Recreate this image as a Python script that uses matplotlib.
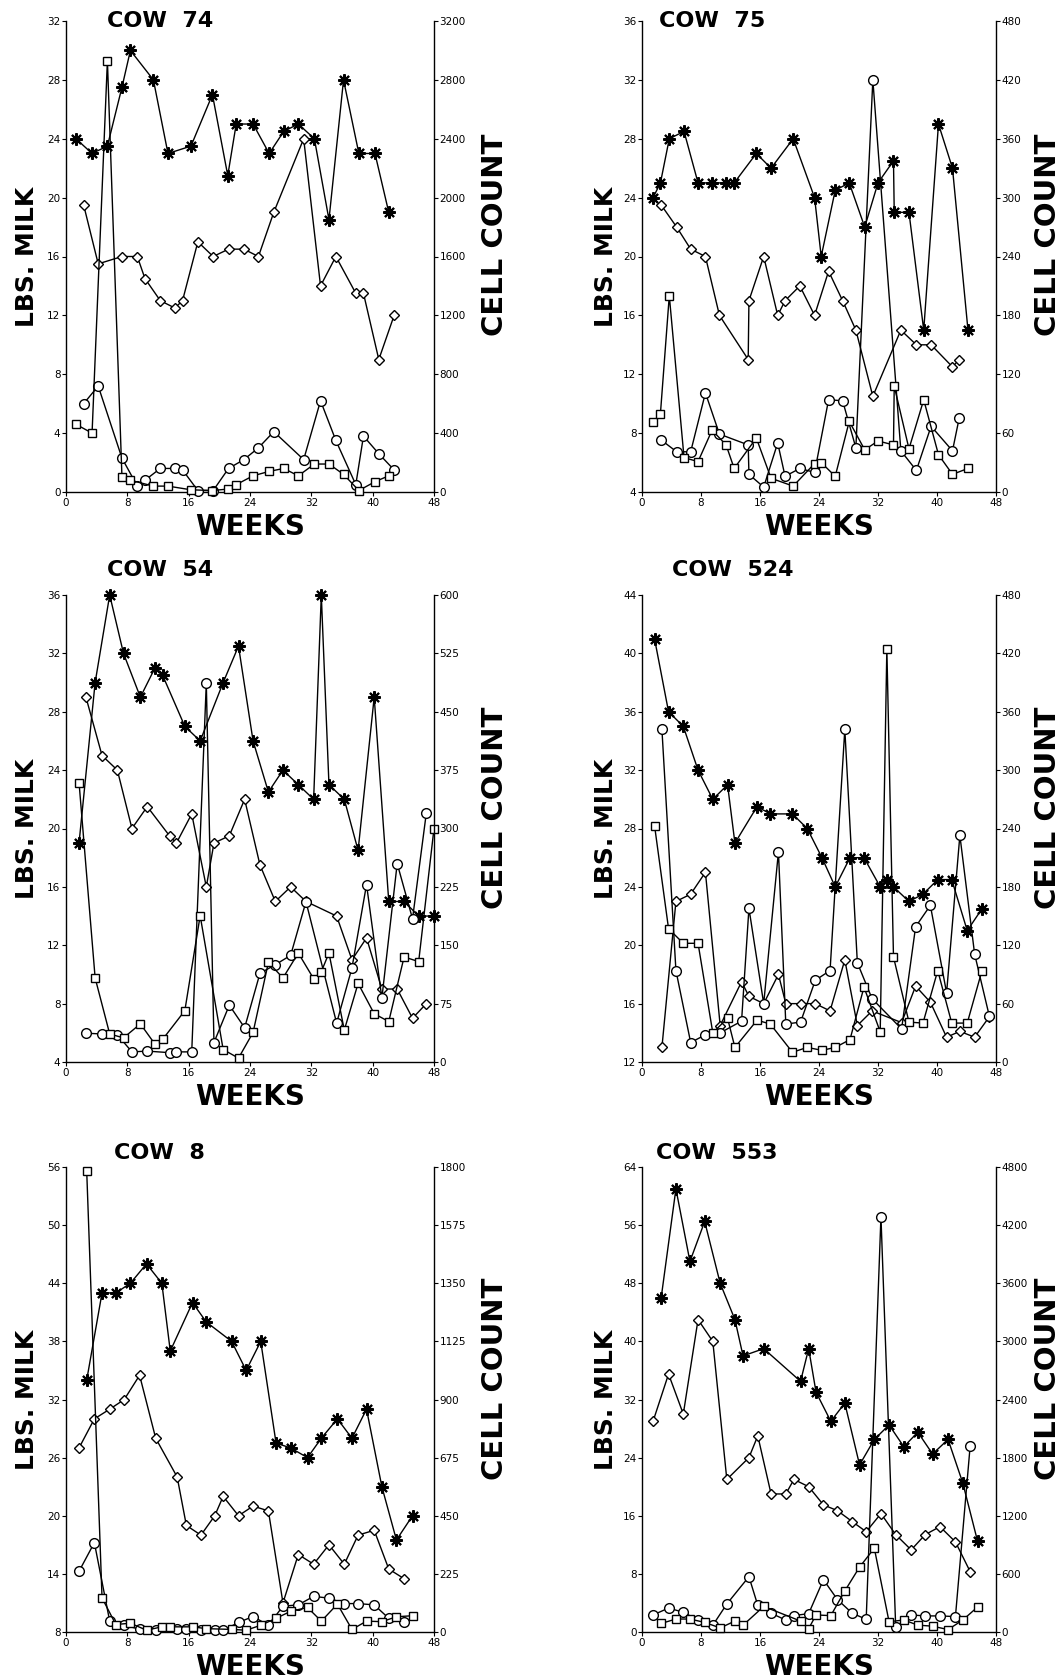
import matplotlib
matplotlib.use("Agg")
import matplotlib.pyplot as plt

# ---- data: stars/squares share weeks A, diamonds/circles share weeks B ----
# milk (lbs) for stars and diamonds, cell count for squares and circles

cow74_wk_a = [1.3, 3.4, 5.4, 7.3, 8.4, 11.4, 13.3, 16.3, 19.1, 21.1, 22.2, 24.4, 26.5, 28.4, 30.3, 32.4, 34.3, 36.2, 38.2, 40.3, 42.1]
cow74_star = [24, 23, 23.5, 27.5, 30, 28, 23, 23.5, 27, 21.5, 25, 25, 23, 24.5, 25, 24, 18.5, 28, 23, 23, 19]
cow74_square = [460, 400, 2930, 100, 80, 40, 40, 15, 10, 20, 50, 110, 140, 160, 110, 190, 190, 120, 10, 70, 110]
cow74_wk_b = [2.3, 4.2, 7.3, 9.3, 10.3, 12.3, 14.2, 15.2, 17.2, 19.2, 21.2, 23.2, 25.1, 27.1, 31.0, 33.2, 35.2, 37.8, 38.8, 40.8, 42.8]
cow74_diamond = [19.5, 15.5, 16, 16, 14.5, 13, 12.5, 13, 17, 16, 16.5, 16.5, 16, 19, 24, 14, 16, 13.5, 13.5, 9, 12]
cow74_circle = [600, 720, 230, 40, 80, 160, 160, 150, 10, 10, 160, 220, 300, 410, 220, 620, 350, 50, 380, 260, 150]

cow75_wk_a = [1.5, 2.5, 3.7, 5.7, 7.6, 9.5, 11.4, 12.5, 15.5, 17.5, 20.5, 23.4, 24.3, 26.2, 28.1, 30.2, 32.0, 34.1, 34.2, 36.2, 38.2, 40.2, 42.1, 44.2]
cow75_star = [24, 25, 28, 28.5, 25, 25, 25, 25, 27, 26, 28, 24, 20, 24.5, 25, 22, 25, 26.5, 23, 23, 15, 29, 26, 15]
cow75_square = [71, 80, 200, 35, 31, 63, 48, 24, 55, 14, 6, 29, 30, 16, 72, 43, 52, 48, 108, 44, 94, 38, 18, 24]
cow75_wk_b = [2.6, 4.7, 6.6, 8.6, 10.5, 14.4, 14.5, 16.5, 18.4, 19.4, 21.4, 23.4, 25.3, 27.2, 29.0, 31.3, 35.1, 37.2, 39.2, 42.1, 43.0]
cow75_diamond = [23.5, 22, 20.5, 20, 16, 13, 17, 20, 16, 17, 18, 16, 19, 17, 15, 10.5, 15, 14, 14, 12.5, 13]
cow75_circle = [53, 41, 41, 101, 59, 48, 18, 5, 50, 16, 24, 20, 94, 93, 45, 420, 42, 22, 67, 42, 75]

cow54_wk_a = [1.7, 3.8, 5.7, 7.5, 9.7, 11.6, 12.6, 15.5, 17.5, 20.5, 22.5, 24.4, 26.4, 28.3, 30.3, 32.3, 33.3, 34.3, 36.3, 38.1, 40.2, 42.1, 44.1, 46.0, 48.0]
cow54_star = [19, 30, 36, 32, 29, 31, 30.5, 27, 26, 30, 32.5, 26, 22.5, 24, 23, 22, 36, 23, 22, 18.5, 29, 15, 15, 14, 14]
cow54_square = [359, 108, 36, 31, 49, 23, 29, 66, 188, 16, 5, 38, 128, 108, 140, 107, 116, 140, 41, 101, 62, 52, 135, 129, 300]
cow54_wk_b = [2.6, 4.7, 6.7, 8.6, 10.6, 13.5, 14.4, 16.4, 18.3, 19.3, 21.3, 23.3, 25.3, 27.3, 29.3, 31.3, 35.3, 37.3, 39.2, 41.2, 43.2, 45.2, 47.0]
cow54_diamond = [29, 25, 24, 20, 21.5, 19.5, 19, 21, 16, 19, 19.5, 22, 17.5, 15, 16, 15, 14, 11, 12.5, 9, 9, 7, 8]
cow54_circle = [37, 36, 35, 13, 14, 12, 13, 13, 487, 25, 73, 44, 114, 125, 137, 206, 50, 121, 228, 82, 255, 184, 320]

cow524_wk_a = [1.7, 3.6, 5.6, 7.6, 9.6, 11.6, 12.6, 15.6, 17.4, 20.4, 22.4, 24.4, 26.2, 28.2, 30.1, 32.3, 33.2, 34.1, 36.2, 38.1, 40.1, 42.0, 44.1, 46.1]
cow524_star = [41, 36, 35, 32, 30, 31, 27, 29.5, 29, 29, 28, 26, 24, 26, 26, 24, 24.5, 24, 23, 23.5, 24.5, 24.5, 21, 22.5]
cow524_square = [243, 137, 122, 122, 30, 45, 15, 43, 39, 10, 15, 12, 15, 23, 77, 31, 425, 108, 41, 40, 94, 40, 40, 94]
cow524_wk_b = [2.7, 4.6, 6.6, 8.6, 10.6, 13.5, 14.5, 16.5, 18.5, 19.5, 21.5, 23.5, 25.5, 27.5, 29.2, 31.2, 35.2, 37.1, 39.1, 41.3, 43.1, 45.1, 47.1]
cow524_diamond = [13, 23, 23.5, 25, 14.5, 17.5, 16.5, 16, 18, 16, 16, 16, 15.5, 19, 14.5, 15.5, 14.7, 17.2, 16.1, 13.7, 14.1, 13.7, 15.1]
cow524_circle = [342, 94, 20, 28, 30, 42, 158, 60, 216, 39, 41, 84, 94, 342, 102, 65, 34, 139, 161, 71, 233, 111, 47]

cow8_wk_a = [2.7, 4.7, 6.5, 8.4, 10.5, 12.5, 13.6, 16.5, 18.3, 21.6, 23.5, 25.4, 27.4, 29.3, 31.5, 33.3, 35.4, 37.3, 39.2, 41.2, 43.1, 45.2]
cow8_star = [34, 43, 43, 44, 46, 44, 37, 42, 40, 38, 35, 38, 27.5, 27, 26, 28, 30, 28, 31, 23, 17.5, 20]
cow8_square = [1785, 132, 29, 34, 7, 20, 20, 20, 13, 10, 7, 26, 53, 80, 95, 42, 108, 10, 42, 40, 59, 63]
cow8_wk_b = [1.7, 3.7, 5.7, 7.6, 9.6, 11.7, 14.5, 15.7, 17.6, 19.4, 20.5, 22.5, 24.4, 26.4, 28.3, 30.3, 32.3, 34.3, 36.3, 38.1, 40.2, 42.1, 44.1]
cow8_diamond = [27, 30, 31, 32, 34.5, 28, 24, 19, 18, 20, 22, 20, 21, 20.5, 11, 16, 15, 17, 15, 18, 18.5, 14.5, 13.5]
cow8_circle = [235, 346, 42, 26, 11, 7, 12, 10, 8, 7, 6, 37, 60, 26, 100, 105, 138, 131, 110, 110, 105, 53, 40]

cow553_wk_a = [2.6, 4.6, 6.5, 8.5, 10.6, 12.6, 13.7, 16.5, 21.5, 22.6, 23.6, 25.6, 27.5, 29.5, 31.5, 33.5, 35.5, 37.4, 39.4, 41.5, 43.5, 45.5]
cow553_star = [46, 61, 51, 56.5, 48, 43, 38, 39, 34.5, 39, 33, 29, 31.5, 23, 26.5, 28.5, 25.5, 27.5, 24.5, 26.5, 20.5, 12.5]
cow553_square = [88, 134, 134, 99, 42, 113, 70, 264, 113, 35, 176, 169, 424, 670, 865, 106, 124, 71, 60, 25, 124, 258]
cow553_wk_b = [1.5, 3.6, 5.6, 7.6, 9.6, 11.5, 14.5, 15.7, 17.5, 19.5, 20.6, 22.6, 24.6, 26.5, 28.5, 30.4, 32.4, 34.4, 36.5, 38.4, 40.4, 42.5, 44.5]
cow553_diamond = [29, 35.5, 30, 43, 40, 21, 24, 27, 19, 19, 21, 20, 17.5, 16.7, 15.2, 13.8, 16.3, 13.4, 11.3, 13.4, 14.5, 12.4, 8.3]
cow553_circle = [176, 247, 204, 123, 70, 289, 571, 275, 194, 123, 169, 190, 540, 335, 194, 131, 4288, 53, 176, 166, 166, 159, 1924]

# axis ranges and tick labels
milk_ticks = {
    "74": [0, 4, 8, 12, 16, 20, 24, 28, 32],
    "75": [4, 8, 12, 16, 20, 24, 28, 32, 36],
    "54": [4, 8, 12, 16, 20, 24, 28, 32, 36],
    "524": [12, 16, 20, 24, 28, 32, 36, 40, 44],
    "8": [8, 14, 20, 26, 32, 38, 44, 50, 56],
    "553": [0, 8, 16, 24, 32, 40, 48, 56, 64],
}
cell_ticks = {
    "74": [0, 400, 800, 1200, 1600, 2000, 2400, 2800, 3200],
    "75": [0, 60, 120, 180, 240, 300, 360, 420, 480],
    "54": [0, 75, 150, 225, 300, 375, 450, 525, 600],
    "524": [0, 60, 120, 180, 240, 300, 360, 420, 480],
    "8": [0, 225, 450, 675, 900, 1125, 1350, 1575, 1800],
    "553": [0, 600, 1200, 1800, 2400, 3000, 3600, 4200, 4800],
}
week_ticks = [0, 8, 16, 24, 32, 40, 48]

panels = [
    ("74", cow74_wk_a, cow74_star, cow74_square, cow74_wk_b, cow74_diamond, cow74_circle),
    ("75", cow75_wk_a, cow75_star, cow75_square, cow75_wk_b, cow75_diamond, cow75_circle),
    ("54", cow54_wk_a, cow54_star, cow54_square, cow54_wk_b, cow54_diamond, cow54_circle),
    ("524", cow524_wk_a, cow524_star, cow524_square, cow524_wk_b, cow524_diamond, cow524_circle),
    ("8", cow8_wk_a, cow8_star, cow8_square, cow8_wk_b, cow8_diamond, cow8_circle),
    ("553", cow553_wk_a, cow553_star, cow553_square, cow553_wk_b, cow553_diamond, cow553_circle),
]

# layout in pixels (figure is 1063 x 1679)
W, H = 1063, 1679
cols = [(66, 434), (642, 996)]
rows = [(21, 492), (595, 1062), (1167, 1632)]
title_pos = [(0.255, 1.0), (0.198, 1.0), (0.255, 1.054), (0.257, 1.054), (0.255, 1.03), (0.212, 1.03)]
milk_lab_x = [-39, -36]     # px from left spine
cell_lab_x = [61, 52]       # px from right spine

fig = plt.figure(figsize=(W / 100, H / 100), dpi=100)

for i, (name, wa, star, sq, wb, dia, circ) in enumerate(panels):
    x0, x1 = cols[i % 2]
    y0, y1 = rows[i // 2]
    ax = fig.add_axes([x0 / W, 1 - y1 / H, (x1 - x0) / W, (y1 - y0) / H])
    ax2 = ax.twinx()

    mt = milk_ticks[name]
    ct = cell_ticks[name]

    kw = dict(color="black", lw=1.0, clip_on=False)
    ax.plot(wa, star, marker=(8, 2, 0), ms=9, mew=1.5, **kw)
    ax.plot(wb, dia, marker="D", ms=5, mfc="white", mew=1.0, **kw)
    ax2.plot(wb, circ, marker="o", ms=7, mfc="white", mew=1.0, **kw)
    ax2.plot(wa, sq, marker="s", ms=6, mfc="white", mew=1.0, **kw)

    ax.set_xlim(0, 48)
    ax.set_xticks(week_ticks)
    ax.set_ylim(mt[0], mt[-1])
    ax.set_yticks(mt)
    ax2.set_ylim(ct[0], ct[-1])
    ax2.set_yticks(ct)

    for s in ["top", "right"]:
        ax.spines[s].set_visible(False)
    for s in ["top", "left", "bottom"]:
        ax2.spines[s].set_visible(False)
    for a in (ax, ax2):
        for s in a.spines.values():
            s.set_linewidth(1.0)
        a.tick_params(direction="out", length=3, width=0.8, labelsize=7.5, pad=1)

    wpx = x1 - x0
    hpx = y1 - y0
    ax.set_ylabel("LBS. MILK", fontsize=18, fontweight="bold", va="center", ha="center")
    ax2.set_ylabel("CELL COUNT", fontsize=21, fontweight="bold", va="center", ha="center",
                   rotation=90)
    ax.set_xlabel("WEEKS", fontsize=20, fontweight="bold", va="center", ha="center")
    ax.yaxis.set_label_coords(milk_lab_x[i % 2] / wpx, 0.5)
    ax2.yaxis.set_label_coords(1 + cell_lab_x[i % 2] / wpx, 0.545)
    ax.xaxis.set_label_coords(0.5, -35 / hpx)

    tx, ty = title_pos[i]
    ax.text(tx, ty, "COW  " + name, transform=ax.transAxes, ha="center",
            va="center", fontsize=16, fontweight="bold")

fig.savefig("out.png", dpi=100)
